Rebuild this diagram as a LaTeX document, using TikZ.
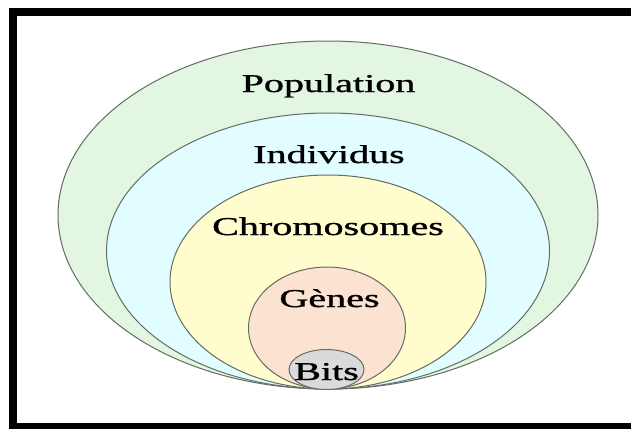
\documentclass[tikz,border=0pt]{standalone}
\usepackage{fontspec}
\setmainfont{Liberation Serif}
\newfontfamily\labelfont[FakeBold=0.9]{Liberation Serif}
\usetikzlibrary{shapes.geometric}

\definecolor{popfill}{RGB}{226,246,226}
\definecolor{indfill}{RGB}{226,253,255}
\definecolor{chrfill}{RGB}{255,252,206}
\definecolor{genfill}{RGB}{252,226,208}
\definecolor{bitfill}{RGB}{218,218,218}
\definecolor{rim}{RGB}{100,108,100}

\tikzset{
  level/.style={ellipse, draw=rim, line width=1bp, inner sep=0pt},
  tag/.style={anchor=base, inner sep=0pt, text=black,
    font=\labelfont\fontsize{25.7bp}{30bp}\selectfont},
  framebar/.style={fill=black, draw=none}
}
\newcommand{\widetext}[1]{\scalebox{1.56}[1]{#1}}

\begin{document}
\begin{tikzpicture}[x=1bp, y=-1bp]
  \useasboundingbox (0,0) rectangle (631,429);
  \fill[white] (0,0) rectangle (631,429);

  % frame (left, top and bottom bars)
  \path[framebar] (9,8) rectangle (17,429);
  \path[framebar] (9,8) rectangle (631,16);
  \path[framebar] (9,423) rectangle (631,429);

  % nested levels, all resting on the same bottom point
  \node[level, fill=popfill, minimum width=540bp, minimum height=348bp] (pop) at (328,215) {};
  \node[level, fill=indfill, minimum width=443bp, minimum height=276bp] (ind) at (328,251) {};
  \node[level, fill=chrfill, minimum width=316bp, minimum height=214bp] (chr) at (328,282) {};
  \node[level, fill=genfill, minimum width=157bp, minimum height=122bp] (gen) at (327,328) {};
  \node[level, fill=bitfill, minimum width=75bp, minimum height=40bp] (bit) at (326.5,369.5) {};

  % labels
  \node[tag] (tpop) at (328.5,92) {\widetext{Population}};
  \node[tag] (tind) at (329,163) {\widetext{Individus}};
  \node[tag] (tchr) at (328,235) {\widetext{Chromosomes}};
  \node[tag] (tgen) at (329.5,307) {\widetext{Gènes}};
  \node[tag] (tbit) at (326.5,380) {\widetext{Bits}};
\end{tikzpicture}
\end{document}
